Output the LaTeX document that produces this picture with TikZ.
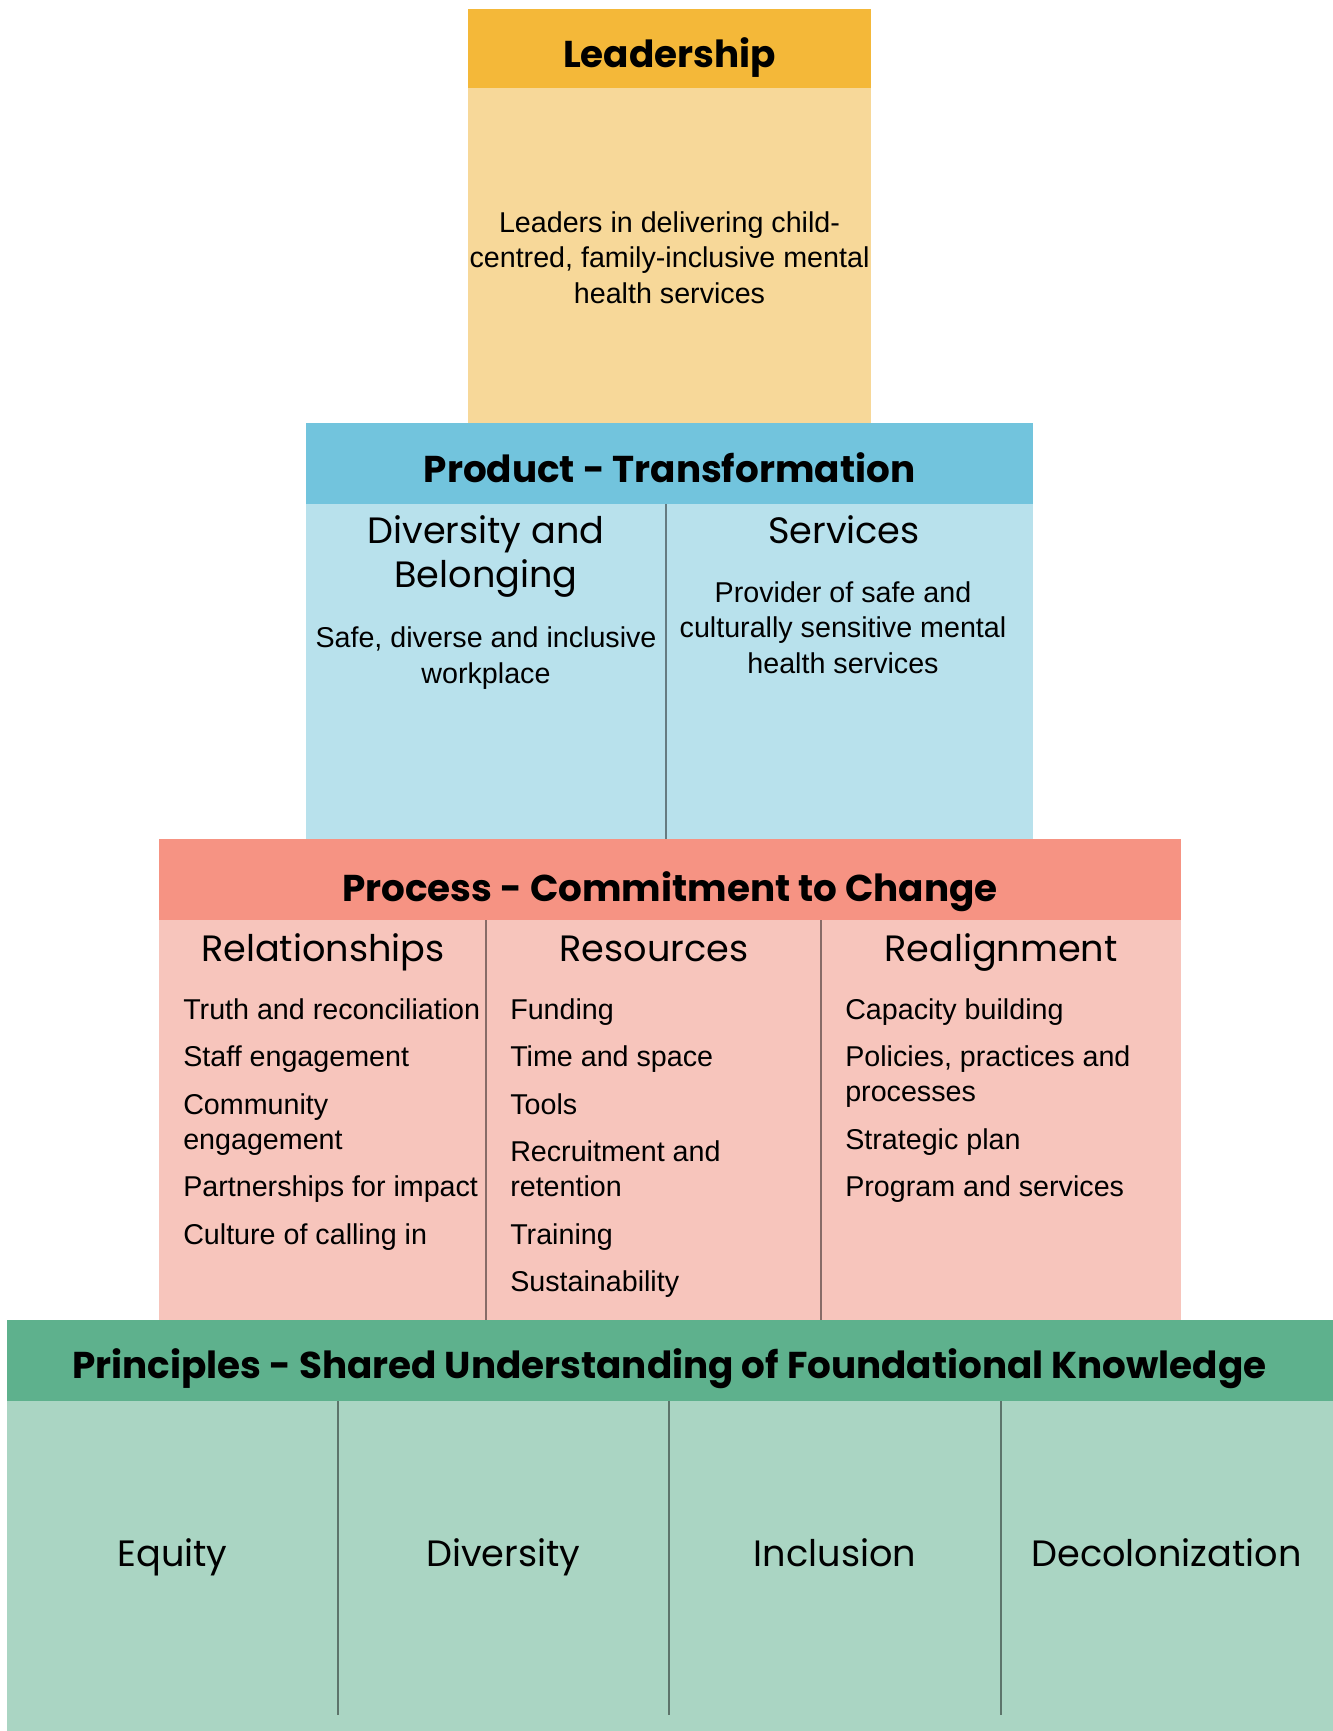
\documentclass[tikz,border=0pt]{standalone}
\usepackage{fontspec}
\setmainfont{Liberation Sans}
\newfontfamily\headfont{Poppins}
\usepackage{tikz}
\usetikzlibrary{positioning}
\usetikzlibrary{calc}

\definecolor{leadHead}{HTML}{F4B839}
\definecolor{leadBody}{HTML}{F7D899}
\definecolor{prodHead}{HTML}{72C4DD}
\definecolor{prodBody}{HTML}{B8E1EC}
\definecolor{procHead}{HTML}{F69383}
\definecolor{procBody}{HTML}{F7C5BC}
\definecolor{princHead}{HTML}{5EB18D}
\definecolor{princBody}{HTML}{AAD5C3}

\begin{document}
\begin{tikzpicture}[x=0.75pt, y=-0.75pt,
    heading/.style={font=\headfont\bfseries\fontsize{28}{34}\selectfont, anchor=base, inner sep=0pt},
    coltitle/.style={font=\headfont\fontsize{27.5}{33}\selectfont, anchor=base, inner sep=0pt},
    bodyline/.style={font=\fontsize{21.5}{26}\selectfont, anchor=base, inner sep=0pt},
    item/.style={font=\fontsize{21.5}{26}\selectfont, anchor=base west, inner sep=0pt},
    divider/.style={draw=black, opacity=0.45, line width=1pt}]

        \useasboundingbox (0,0) rectangle (1333,1731);

        % Leadership block
        \fill[leadBody] (468,9) rectangle (871,423);
        \fill[leadHead] (468,9) rectangle (871,88);
        \node[heading] (lead) at (669.5,67) {Leadership};
        \node[bodyline] (lead1) at (669.5,232) {Leaders in delivering child-};
        \node[bodyline] (lead2) at (669.5,267) {centred, family-inclusive mental};
        \node[bodyline] (lead3) at (669.5,303) {health services};

        % Product block
        \fill[prodBody] (306,423) rectangle (1033,839);
        \fill[prodHead] (306,423) rectangle (1033,504);
        \node[heading] (prod) at (669.5,482) {Product - Transformation};
        \coordinate (pd1) at (666,504);
        \coordinate (pd2) at (666,839);
        \draw[divider] (pd1) -- (pd2);

        \node[coltitle] (div1) at (486,543) {Diversity and};
        \node[coltitle] (div2) at (486,587) {Belonging};
        \node[bodyline] (safe1) at (486,647) {Safe, diverse and inclusive};
        \node[bodyline] (safe2) at (486,683) {workplace};

        \node[coltitle] (serv) at (844,543) {Services};
        \node[bodyline] (prov1) at (843,602) {Provider of safe and};
        \node[bodyline] (prov2) at (843,637) {culturally sensitive mental};
        \node[bodyline] (prov3) at (843,673) {health services};

        % Process block
        \fill[procBody] (159,839) rectangle (1181,1320);
        \fill[procHead] (159,839) rectangle (1181,920);
        \node[heading] (proc) at (670,901) {Process - Commitment to Change};
        \foreach \x in {486,821} {
          \coordinate (top\x) at (\x,920);
          \coordinate (bot\x) at (\x,1320);
          \draw[divider] (top\x) -- (bot\x);
        }

        \node[coltitle] (rel) at (323,961) {Relationships};
        \node[coltitle] (res) at (654,961) {Resources};
        \node[coltitle] (real) at (1001,961) {Realignment};

        \node[item] (rel1) at (183,1019) {Truth and reconciliation};
        \node[item] (rel2) at (183,1066.5) {Staff engagement};
        \node[item] (rel3) at (183,1114) {Community};
        \node[item] (rel3b) at (183,1149) {engagement};
        \node[item] (rel4) at (183,1196.5) {Partnerships for impact};
        \node[item] (rel5) at (183,1244) {Culture of calling in};

        \node[item] (res1) at (510,1019) {Funding};
        \node[item] (res2) at (510,1066.5) {Time and space};
        \node[item] (res3) at (510,1114) {Tools};
        \node[item] (res4) at (510,1161.5) {Recruitment and};
        \node[item] (res4b) at (510,1196.5) {retention};
        \node[item] (res5) at (510,1244) {Training};
        \node[item] (res6) at (510,1291.5) {Sustainability};

        \node[item] (real1) at (845,1019) {Capacity building};
        \node[item] (real2) at (845,1066.5) {Policies, practices and};
        \node[item] (real2b) at (845,1101.5) {processes};
        \node[item] (real3) at (845,1149) {Strategic plan};
        \node[item] (real4) at (845,1196.5) {Program and services};

        % Principles block
        \fill[princBody] (7,1320) rectangle (1333,1731);
        \fill[princHead] (7,1320) rectangle (1333,1401);
        \node[heading] (princ) at (669.5,1378) {Principles - Shared Understanding of Foundational Knowledge};
        \foreach \x in {338,669,1001} {
          \coordinate (top\x) at (\x,1401);
          \coordinate (bot\x) at (\x,1715);
          \draw[divider] (top\x) -- (bot\x);
        }

        \node[coltitle] (equ) at (172.5,1566) {Equity};
        \node[coltitle] (dive) at (503.5,1566) {Diversity};
        \node[coltitle] (incl) at (835,1566) {Inclusion};
        \node[coltitle] (decol) at (1166.5,1566) {Decolonization};
      \end{tikzpicture}
\end{document}
